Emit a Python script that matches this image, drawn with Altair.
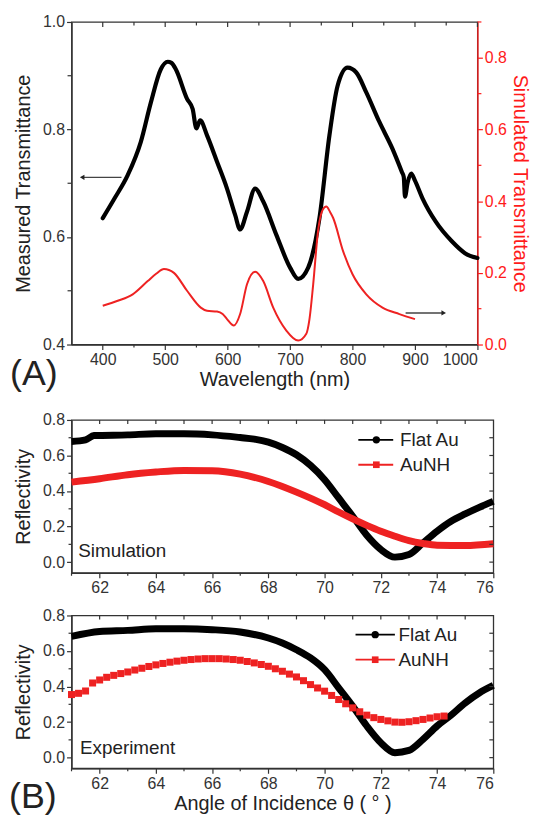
import altair as alt
import pandas as pd

FONT = "Liberation Sans"
RED = "#ee2222"
AXRED = "#ff1a1a"
AXC = "#333333"

# ---------------- Panel A data ----------------
meas_wl = [400, 419, 440, 461, 477, 493, 504, 510, 517, 535, 544, 550, 556, 567, 583, 599, 612, 620,
           631, 644, 657, 678, 700, 713, 729, 747, 763, 776, 792, 806, 822, 843, 864, 879, 882, 884,
           888, 894, 900, 912, 933, 959, 980, 1000]
meas_t = [0.635, 0.672, 0.715, 0.777, 0.850, 0.912, 0.926, 0.924, 0.912, 0.857, 0.838, 0.802, 0.817,
          0.789, 0.740, 0.690, 0.641, 0.614, 0.647, 0.690, 0.666, 0.604, 0.543, 0.522, 0.543, 0.635,
          0.789, 0.881, 0.915, 0.906, 0.869, 0.814, 0.764, 0.721, 0.712, 0.675, 0.700, 0.718, 0.705,
          0.672, 0.629, 0.592, 0.570, 0.561]

sim_wl = [400, 424, 448, 472, 486, 498, 514, 535, 557, 567, 583, 592, 599, 610, 620, 631, 644, 657,
          673, 694, 713, 726, 731, 737, 745, 752, 758, 764, 769, 785, 800, 822, 848, 875, 900]
sim_t = [0.108, 0.122, 0.140, 0.177, 0.198, 0.211, 0.200, 0.150, 0.103, 0.094, 0.092, 0.085, 0.071,
         0.053, 0.085, 0.168, 0.203, 0.177, 0.103, 0.039, 0.011, 0.030, 0.070, 0.168, 0.320, 0.375,
         0.385, 0.370, 0.353, 0.260, 0.196, 0.140, 0.103, 0.085, 0.071]

arrowL_x = [430]
arrowL_x2 = [367]
arrowL_y = [0.711]
arrowR_x = [885]
arrowR_x2 = [946]
arrowR_y = [0.088]

xticksA_major = [400, 500, 600, 700, 800, 900, 1000]
xticksA_minor = [450, 550, 650, 750, 850, 950]
yticksL_major = [0.4, 0.6, 0.8, 1.0]
yticksL_minor = [0.5, 0.7, 0.9]
yticksR_major = [0.0, 0.2, 0.4, 0.6, 0.8]
yticksR_minor = [0.1, 0.3, 0.5, 0.7, 0.9]

# ---------------- Panel B data ----------------
simF_a = [61, 61.5, 61.8, 63, 64, 65, 66, 67, 67.5, 68, 68.5, 69, 69.5, 70, 70.5, 71, 71.5, 72,
          72.5, 73, 73.5, 74, 74.5, 75, 75.5, 76]
simF_r = [0.679, 0.688, 0.712, 0.716, 0.722, 0.722, 0.716, 0.701, 0.692, 0.675, 0.645, 0.604, 0.544,
          0.464, 0.361, 0.258, 0.151, 0.071, 0.028, 0.043, 0.108, 0.174, 0.230, 0.271, 0.308, 0.342]

simN_a = [61, 62, 63, 64, 65, 66, 67, 68, 69, 70, 70.5, 71, 71.5, 72, 72.5, 73, 73.5, 74, 75, 76]
simN_r = [0.450, 0.469, 0.492, 0.507, 0.516, 0.514, 0.495, 0.454, 0.394, 0.323, 0.282, 0.243, 0.207,
          0.174, 0.146, 0.121, 0.105, 0.095, 0.093, 0.103]

expF_a = [61, 62, 63, 64, 65, 66, 67, 68, 68.5, 69, 69.5, 70, 70.5, 71, 71.5, 72, 72.5, 73, 73.5,
          74, 74.5, 75, 75.5, 76]
expF_r = [0.682, 0.710, 0.716, 0.725, 0.725, 0.720, 0.707, 0.673, 0.645, 0.607, 0.561, 0.495, 0.393,
          0.290, 0.178, 0.084, 0.028, 0.041, 0.103, 0.178, 0.239, 0.308, 0.364, 0.406]

expN_a = [61.0, 61.25, 61.5, 61.75, 62.0, 62.25, 62.5, 62.75, 63.0, 63.25, 63.5, 63.75, 64.0, 64.25,
          64.5, 64.75, 65.0, 65.25, 65.5, 65.75, 66.0, 66.25, 66.5, 66.75, 67.0, 67.25, 67.5, 67.75,
          68.0, 68.25, 68.5, 68.75, 69.0, 69.25, 69.5, 69.75, 70.0, 70.25, 70.5, 70.75, 71.0, 71.25,
          71.5, 71.75, 72.0, 72.25, 72.5, 72.75, 73.0, 73.25, 73.5, 73.75, 74.0, 74.25]
expN_r = [0.355, 0.362, 0.375, 0.420, 0.437, 0.452, 0.463, 0.473, 0.482, 0.493, 0.503, 0.513, 0.522,
          0.530, 0.537, 0.543, 0.548, 0.552, 0.555, 0.557, 0.557, 0.557, 0.555, 0.552, 0.548, 0.541,
          0.533, 0.524, 0.514, 0.500, 0.486, 0.470, 0.454, 0.433, 0.411, 0.392, 0.374, 0.350, 0.327,
          0.303, 0.280, 0.258, 0.239, 0.225, 0.215, 0.207, 0.200, 0.199, 0.202, 0.208, 0.215, 0.223,
          0.230, 0.234]

xticksB_major = [62, 64, 66, 68, 70, 72, 74, 76]
xticksB_minor = [61, 63, 65, 67, 69, 71, 73, 75]
xticksB_top = list(range(62, 76))
yticksB_major = [0.0, 0.2, 0.4, 0.6, 0.8]
yticksB_minor = [0.1, 0.3, 0.5, 0.7]
yticksB_right = [0.0, 0.1, 0.2, 0.3, 0.4, 0.5, 0.6, 0.7]

leg1_y = [0.688, 0.548]
leg2_y = [0.692, 0.551]
leg_names = ["Flat Au", "AuNH"]
leg1_x = [71.2, 72.44, 71.84, 72.68]   # line start, line end, marker, text
leg2_x = [71.1, 72.5, 71.8, 72.63]
note1 = ["Simulation", 61.24, 0.062]
note2 = ["Experiment", 61.3, 0.056]


def df(**kw):
    return pd.DataFrame(kw)


# ---------------- Panel A ----------------
WA, HA = 409, 325
xsA = alt.Scale(domain=[350, 1000], nice=False, zero=False)
ysL = alt.Scale(domain=[0.4, 1.0], nice=False, zero=False)
ysR = alt.Scale(domain=[0, 0.9], nice=False, zero=False)

axXA = alt.Axis(orient="bottom", values=xticksA_major, format="d", title="Wavelength (nm)", titlePadding=2)
axYL = alt.Axis(orient="left", values=yticksL_major, format=".1f", title="Measured Transmittance",
                titlePadding=9)
axYR = alt.Axis(orient="right", values=yticksR_major, format=".1f", title="Simulated Transmittance",
                titlePadding=3, domainColor=AXRED, tickColor=AXRED, labelColor=AXRED, titleColor=AXRED)


def XA(f):
    return alt.X(f, type="quantitative", scale=xsA, axis=axXA)


def YL(f):
    return alt.Y(f, type="quantitative", scale=ysL, axis=axYL)


def YR(f):
    return alt.Y(f, type="quantitative", scale=ysR, axis=axYR)


def rx(vals, X, y0, y1, color=AXC):
    return alt.Chart(df(v=vals)).mark_rule(color=color, strokeWidth=1.2).encode(
        x=X("v"), y=alt.value(y0), y2=alt.value(y1))


def ry(vals, Y, x0, x1, color=AXC):
    return alt.Chart(df(v=vals)).mark_rule(color=color, strokeWidth=1.2).encode(
        y=Y("v"), x=alt.value(x0), x2=alt.value(x1))


measA = alt.Chart(df(wl=meas_wl, t=meas_t)).mark_line(
    color="black", strokeWidth=4.2, interpolate="monotone", strokeCap="round").encode(
    x=XA("wl"), y=YL("t"))
arrL = alt.Chart(df(x=arrowL_x, x2=arrowL_x2, y=arrowL_y)).mark_rule(color="#444", strokeWidth=1.3).encode(
    x=XA("x"), x2="x2:Q", y=YL("y"))
arrLh = alt.Chart(df(x=arrowL_x2, y=arrowL_y)).mark_point(
    shape="triangle-left", filled=True, color="#222", size=28, opacity=1).encode(x=XA("x"), y=YL("y"))
labA = alt.Chart(df(a=[0])).mark_text(text="(A)", font=FONT, fontSize=36, color="#222",
                                       align="center", baseline="middle").encode(
    x=alt.value(-38), y=alt.value(HA + 30))

left_group = alt.layer(
    measA, arrL, arrLh,
    rx(xticksA_minor, XA, HA, HA + 3),
    rx(xticksA_major, XA, 0, 5),
    rx(xticksA_minor, XA, 0, 3.5),
    ry(yticksL_minor, YL, 0, -4),
    labA)

simA = alt.Chart(df(wl=sim_wl, t=sim_t)).mark_line(
    color=RED, strokeWidth=2, interpolate="monotone").encode(x=XA("wl"), y=YR("t"))
arrR = alt.Chart(df(x=arrowR_x, x2=arrowR_x2, y=arrowR_y)).mark_rule(color="#444", strokeWidth=1.3).encode(
    x=XA("x"), x2="x2:Q", y=YR("y"))
arrRh = alt.Chart(df(x=arrowR_x2, y=arrowR_y)).mark_point(
    shape="triangle-right", filled=True, color="#222", size=28, opacity=1).encode(x=XA("x"), y=YR("y"))

right_group = alt.layer(simA, arrR, arrRh, ry(yticksR_minor, YR, WA, WA + 4, color=AXRED))

panelA = alt.layer(left_group, right_group).resolve_scale(y="independent").properties(width=WA, height=HA)

# ---------------- Panel B ----------------
WB = 425
xsB = alt.Scale(domain=[61, 76], nice=False, zero=False)
ysB = alt.Scale(domain=[-0.06, 0.8], nice=False, zero=False)


def panelB(H, fa, fr, na, nr, expt, legy, legx, note, xtitle):
    axX = alt.Axis(orient="bottom", values=xticksB_major, format="d", title=xtitle, titlePadding=3)
    axY = alt.Axis(orient="left", values=yticksB_major, format=".1f", title="Reflectivity", titlePadding=9)

    def X(f):
        return alt.X(f, type="quantitative", scale=xsB, axis=axX)

    def Y(f):
        return alt.Y(f, type="quantitative", scale=ysB, axis=axY)

    blk = alt.Chart(df(a=fa, r=fr)).mark_line(color="black", strokeWidth=7, interpolate="monotone").encode(
        x=X("a"), y=Y("r"))
    if expt:
        redl = alt.Chart(df(a=na, r=nr)).mark_square(color=RED, size=50, opacity=1).encode(x=X("a"), y=Y("r"))
    else:
        redl = alt.Chart(df(a=na, r=nr)).mark_line(color=RED, strokeWidth=7, interpolate="monotone").encode(
            x=X("a"), y=Y("r"))
    layers = [blk, redl]
    lcol = ["black", RED]
    for i in range(2):
        layers.append(alt.Chart(df(x=[legx[0]], x2=[legx[1]], y=[legy[i]])).mark_rule(
            color=lcol[i], strokeWidth=1.8).encode(x=X("x"), x2="x2:Q", y=Y("y")))
    layers.append(alt.Chart(df(x=[legx[2]], y=[legy[0]])).mark_circle(color="black", size=55, opacity=1).encode(
        x=X("x"), y=Y("y")))
    layers.append(alt.Chart(df(x=[legx[2]], y=[legy[1]])).mark_square(color=RED, size=45, opacity=1).encode(
        x=X("x"), y=Y("y")))
    layers.append(alt.Chart(df(x=[legx[3]] * 2, y=legy, n=leg_names)).mark_text(
        align="left", baseline="middle", font=FONT, fontSize=19, color="#222").encode(
        x=X("x"), y=Y("y"), text="n:N"))
    layers.append(alt.Chart(df(x=[note[1]], y=[note[2]], n=[note[0]])).mark_text(
        align="left", baseline="middle", font=FONT, fontSize=19, color="#222").encode(
        x=X("x"), y=Y("y"), text="n:N"))
    layers += [
        rx(xticksB_minor, X, H, H + 3),
        rx(xticksB_top, X, 0, 4),
        ry(yticksB_minor, Y, 0, -3),
        ry(yticksB_right, Y, WB, WB - 4),
    ]
    return layers


HB1, HB2 = 154, 154
panelB1 = alt.layer(*panelB(HB1, simF_a, simF_r, simN_a, simN_r, False, leg1_y, leg1_x, note1, None)
                    ).properties(width=WB, height=HB1)
labB = alt.Chart(df(a=[0])).mark_text(text="(B)", font=FONT, fontSize=36, color="#222",
                                       align="center", baseline="middle").encode(
    x=alt.value(-39), y=alt.value(HB2 + 29))
panelB2 = alt.layer(*panelB(HB2, expF_a, expF_r, expN_a, expN_r, True, leg2_y, leg2_x, note2,
                            "Angle of Incidence θ ( ° )"), labB).properties(width=WB, height=HB2)

chart = alt.vconcat(panelA, alt.vconcat(panelB1, panelB2, spacing=10), spacing=18).properties(
    padding={"left": 0, "top": 2, "right": 4, "bottom": 0}
).configure_view(stroke=AXC, strokeWidth=1.3).configure_axis(
    grid=False, domainColor=AXC, tickColor=AXC, domainWidth=1.3, tickWidth=1.2, tickSize=5,
    labelFont=FONT, labelFontSize=16, labelColor="#333", labelPadding=2,
    titleFont=FONT, titleFontSize=20, titleFontWeight="normal", titleColor="#222"
)

chart.save("out.html", embed_options={"renderer": "svg", "actions": False})
